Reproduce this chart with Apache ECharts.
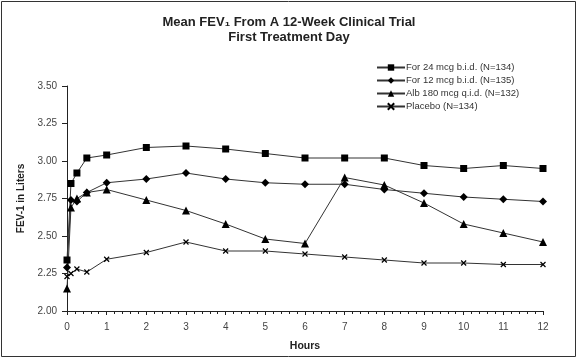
<!DOCTYPE html>
<html><head><meta charset="utf-8">
<script src="https://cdn.jsdelivr.net/npm/echarts@6/dist/echarts.min.js"></script>
<style>html,body{margin:0;padding:0;background:#fff}#c{width:578px;height:359px}</style>
</head><body><div id="c"></div>
<script>
const hours = [0, 0.1, 0.25, 0.5, 1, 2, 3, 4, 5, 6, 7, 8, 9, 10, 11, 12];
const seriesNames = ['For 24 mcg b.i.d. (N=134)', 'For 12 mcg b.i.d. (N=135)', 'Alb 180 mcg q.i.d. (N=132)', 'Placebo (N=134)'];
const for24 = [2.34, 2.85, 2.92, 3.02, 3.04, 3.09, 3.10, 3.08, 3.05, 3.02, 3.02, 3.02, 2.97, 2.95, 2.97, 2.95];
const for12 = [2.29, 2.74, 2.73, 2.79, 2.855, 2.88, 2.92, 2.88, 2.855, 2.845, 2.845, 2.81, 2.785, 2.76, 2.745, 2.73];
const alb180 = [2.15, 2.69, 2.75, 2.79, 2.81, 2.74, 2.67, 2.58, 2.48, 2.45, 2.89, 2.84, 2.72, 2.58, 2.52, 2.46];
const placebo = [2.23, 2.25, 2.28, 2.26, 2.345, 2.39, 2.46, 2.40, 2.40, 2.38, 2.36, 2.34, 2.32, 2.32, 2.31, 2.31];
const yTicks = [2.00, 2.25, 2.50, 2.75, 3.00, 3.25, 3.50];

const pair = arr => hours.map((h, i) => [h, arr[i]]);
const symbols = ['rect', 'diamond', 'triangle', 'path://M0,0L10,10M10,0L0,10'];
const sizes = [7, 8, 8, 5];
const datas = [for24, for12, alb180, placebo];

const chart = echarts.init(document.getElementById('c'));
chart.setOption({
  animation: false,
  backgroundColor: '#fff',
  title: {
    text: 'Mean FEV\u2081 From A 12-Week Clinical Trial\nFirst Treatment Day',
    left: 'center', top: 10,
    textStyle: { fontFamily: 'Liberation Sans', fontWeight: 'bold', fontSize: 13, color: '#222', lineHeight: 15 }
  },
  legend: {
    orient: 'vertical', left: 371, top: 57, itemWidth: 28, itemHeight: 8, itemGap: 2,
    data: seriesNames,
    textStyle: { fontFamily: 'Liberation Sans', fontSize: 9.5, color: '#333', lineHeight: 11, padding: [0, 0, 0, -4] }
  },
  graphic: [{ type: 'rect', shape: { x: 1.5, y: 1.5, width: 574, height: 355 }, style: { fill: 'none', stroke: '#333', lineWidth: 1 }, silent: true }],
  grid: { left: 67, right: 35, top: 86, bottom: 48 },
  xAxis: {
    type: 'value', min: 0, max: 12, interval: 1,
    name: 'Hours', nameLocation: 'middle', nameGap: 30,
    nameTextStyle: { fontFamily: 'Liberation Sans', fontWeight: 'bold', fontSize: 10.5, color: '#222' },
    axisLine: { lineStyle: { color: '#222' } },
    axisTick: { length: 4, lineStyle: { color: '#222' } },
    minorTick: { show: true, splitNumber: 5, length: 3, lineStyle: { color: '#222' } },
    splitLine: { show: false },
    axisLabel: { fontFamily: 'Liberation Sans', fontSize: 10, color: '#444', margin: 11 }
  },
  yAxis: {
    type: 'value', min: 2.0, max: 3.5, interval: 0.25,
    name: 'FEV-1 in Liters', nameLocation: 'middle', nameGap: 40,
    nameTextStyle: { fontFamily: 'Liberation Sans', fontWeight: 'bold', fontSize: 10, color: '#222' },
    axisLine: { show: true, lineStyle: { color: '#222' } },
    axisTick: { show: true, length: 5, lineStyle: { color: '#222' } },
    splitLine: { show: false },
    axisLabel: { fontFamily: 'Liberation Sans', fontSize: 10, color: '#444', margin: 10,
      formatter: v => yTicks.includes(+v.toFixed(2)) ? v.toFixed(2) : '' }
  },
  series: datas.map((d, i) => ({
    name: seriesNames[i], type: 'line', data: pair(d),
    symbol: symbols[i], symbolSize: sizes[i], showSymbol: true,
    lineStyle: { color: '#333', width: 1 },
    itemStyle: { color: '#000', borderColor: '#000', borderWidth: i === 3 ? 1.2 : 0 }
  }))
});
</script></body></html>
